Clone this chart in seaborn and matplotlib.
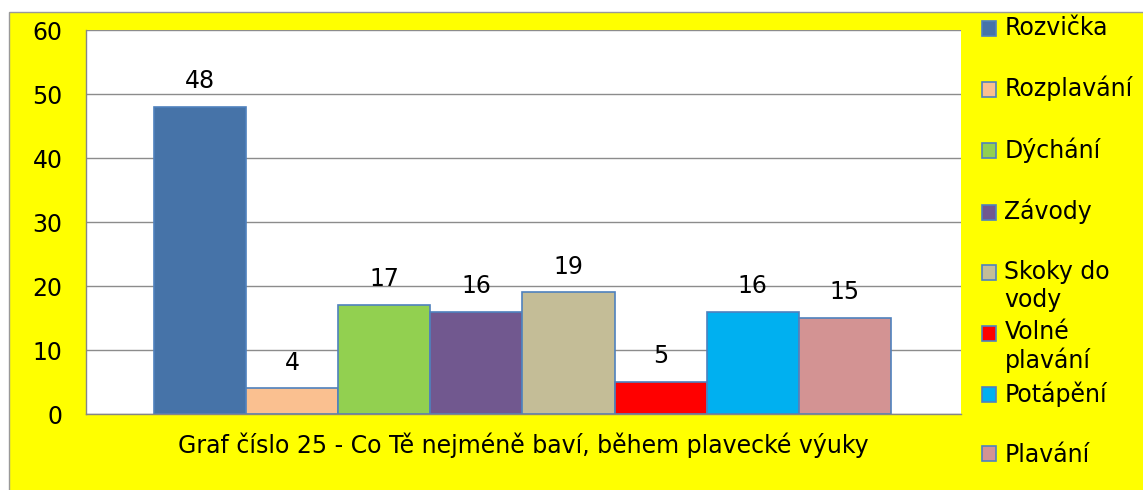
import pandas as pd
import seaborn as sns
import matplotlib.pyplot as plt
from matplotlib.patches import Rectangle

# Data
categories = ["Rozvička", "Rozplavání", "Dýchání", "Závody",
              "Skoky do vody", "Volné plavání", "Potápění", "Plavání"]
values = [48, 4, 17, 16, 19, 5, 16, 15]
legend_labels = ["Rozvička", "Rozplavání", "Dýchání", "Závody",
                 "Skoky do\nvody", "Volné\nplavání", "Potápění", "Plavání"]
colors = ["#4673A8", "#FAC090", "#92D050", "#71588F",
          "#C4BD97", "#FF0000", "#00B0F0", "#D39393"]
y_ticks = [0, 10, 20, 30, 40, 50, 60]
title = "Graf číslo 25 - Co Tě nejméně baví, během plavecké výuky"

df = pd.DataFrame({"group": [""] * len(categories),
                   "category": categories,
                   "count": values})

sns.set_style("white")
plt.rcParams["font.family"] = ["DejaVu Sans"]
plt.rcParams["text.color"] = "black"
plt.rcParams["axes.labelcolor"] = "black"

fs = 17
fig = plt.figure(figsize=(11.43, 4.9), dpi=100)
# yellow chart area behind everything
fig.add_artist(Rectangle((9 / 1143, -0.05), 1.0, 0.9755 + 0.05,
                         transform=fig.transFigure, facecolor="#FFFF00",
                         edgecolor="#999999", linewidth=1, zorder=-1))
ax = fig.add_axes([86 / 1143, 76 / 490, 875 / 1143, 384 / 490])
ax.set_facecolor("white")

sns.barplot(data=df, x="group", y="count", hue="category",
            hue_order=categories, palette=colors, saturation=1, dodge=True,
            edgecolor="#4F81BD", linewidth=1.2, legend=False, ax=ax)

for c in ax.containers:
    ax.bar_label(c, padding=10, fontsize=fs, color="black")

ax.set_ylim(0, 60)
ax.set_yticks(y_ticks)
ax.tick_params(axis="y", labelsize=fs, direction="out", length=6,
               color="#868686", labelcolor="black", width=1, pad=11)
lo, hi = -0.4738, 0.476
ax.set_xlim(lo, hi)
ax.set_xticks([lo, hi], ["", ""])
ax.tick_params(axis="x", direction="out", length=6, color="#868686", width=1)
ax.yaxis.grid(True, color="#8C8C8C", linewidth=1)
ax.set_axisbelow(True)
for s in ["top", "right"]:
    ax.spines[s].set_visible(False)
for s in ["left", "bottom"]:
    ax.spines[s].set_color("#868686")
    ax.spines[s].set_linewidth(1)

ax.set_xlabel(title, fontsize=fs, va="center", color="black")
ax.xaxis.set_label_coords(0.5, -0.081)
ax.set_ylabel("")

# legend: labels two lines high so slots are even (last one stays single)
handles = [c.patches[0] for c in ax.containers]
labels = [lab if ("\n" in lab or i == len(legend_labels) - 1) else lab + "\n"
          for i, lab in enumerate(legend_labels)]
leg = fig.legend(handles, labels, loc="upper left",
                 bbox_to_anchor=(982 / 1143, (490 - 16) / 490),
                 frameon=False, fontsize=fs, borderpad=0, borderaxespad=0,
                 handlelength=0.6, handleheight=0.6, handletextpad=0.35,
                 labelspacing=0.34, labelcolor="black")
# put the square next to the first line of two-line labels
for h, lab in zip(leg.legend_handles, labels):
    if "\n" in lab:
        h.set_y(h.get_y() + 0.6 * fs)

fig.savefig("out.png", dpi=100)
